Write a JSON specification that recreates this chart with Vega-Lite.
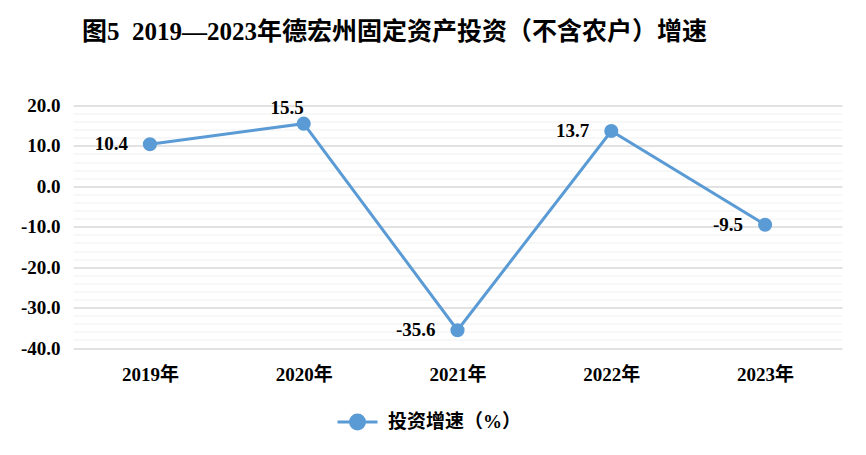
{
  "$schema": "https://vega.github.io/schema/vega-lite/v6.json",
  "width": 769,
  "height": 242.5,
  "autosize": {"type": "none"},
  "padding": {"left": 73, "top": 105.5, "right": 24, "bottom": 107},
  "background": "#ffffff",
  "config": {"view": {"stroke": null}, "font": "Liberation Serif, Noto Sans CJK SC"},
  "title": {
    "text": "图5\u00a0\u00a02019—2023年德宏州固定资产投资（不含农户）增速",
    "anchor": "start",
    "frame": "group",
    "dx": 9,
    "offset": 52,
    "font": "Liberation Serif, Noto Sans CJK SC",
    "fontSize": 25,
    "fontWeight": "bold",
    "color": "#000000"
  },
  "data": {
    "values": [
      {"year": "2019年", "value": 10.4, "series": "投资增速（%）"},
      {"year": "2020年", "value": 15.5, "series": "投资增速（%）"},
      {"year": "2021年", "value": -35.6, "series": "投资增速（%）"},
      {"year": "2022年", "value": 13.7, "series": "投资增速（%）"},
      {"year": "2023年", "value": -9.5, "series": "投资增速（%）"}
    ]
  },
  "encoding": {
    "x": {
      "field": "year",
      "type": "ordinal",
      "sort": null,
      "scale": {"padding": 0.5},
      "axis": {
        "title": null,
        "labelAngle": 0,
        "ticks": false,
        "domain": false,
        "labelPadding": 17,
        "labelFont": "Liberation Serif, Noto Sans CJK SC",
        "labelFontSize": 19,
        "labelFontWeight": "bold",
        "labelColor": "#000000"
      }
    },
    "y": {
      "field": "value",
      "type": "quantitative",
      "scale": {"domain": [-40, 20], "nice": false},
      "axis": {
        "title": null,
        "values": [-40, -38, -36, -34, -32, -30, -28, -26, -24, -22, -20, -18, -16, -14, -12, -10, -8, -6, -4, -2, 0, 2, 4, 6, 8, 10, 12, 14, 16, 18, 20],
        "labelExpr": "datum.value % 10 === 0 ? (datum.value < 0 ? '-' : '') + format(abs(datum.value), '.1f') : ''",
        "labelOverlap": false,
        "ticks": false,
        "domain": false,
        "labelPadding": 13,
        "labelFont": "Liberation Serif",
        "labelFontSize": 19,
        "labelFontWeight": "bold",
        "labelColor": "#000000",
        "gridColor": {"condition": {"test": "datum.value % 10 === 0", "value": "#D9D9D9"}, "value": "#F0F0F0"},
        "gridWidth": {"condition": {"test": "datum.value % 10 === 0", "value": 1.5}, "value": 1}
      }
    }
  },
  "layer": [
    {
      "mark": {"type": "line", "color": "#5B9BD5", "strokeWidth": 3}
    },
    {
      "mark": {"type": "point", "filled": true, "size": 200, "opacity": 1},
      "encoding": {
        "color": {
          "field": "series",
          "type": "nominal",
          "scale": {"range": ["#5B9BD5"]},
          "legend": {
            "title": null,
            "orient": "none",
            "legendX": 263,
            "legendY": 295,
            "padding": 0,
            "symbolType": "M-1,0H1M0.35,0A0.35,0.35 0 1 1 -0.35,0A0.35,0.35 0 1 1 0.35,0Z",
            "symbolSize": 1600,
            "symbolFillColor": "#5B9BD5",
            "symbolStrokeColor": "#5B9BD5",
            "symbolStrokeWidth": 3,
            "symbolOpacity": 1,
            "labelFont": "Liberation Serif, Noto Sans CJK SC",
            "labelFontSize": 19,
            "labelFontWeight": "bold",
            "labelColor": "#000000",
            "labelOffset": 9,
            "encode": {"symbols": {"update": {"stroke": {"value": "#5B9BD5"}, "strokeWidth": {"value": 3}, "fill": {"value": "#5B9BD5"}, "opacity": {"value": 1}}}}
          }
        }
      }
    },
    {
      "transform": [{"filter": "datum.year !== '2020年'"}],
      "mark": {"type": "text", "align": "right", "baseline": "middle", "dx": -22, "dy": 0, "font": "Liberation Serif", "fontSize": 19, "fontWeight": "bold", "color": "#000000"},
      "encoding": {"text": {"field": "value", "type": "nominal"}}
    },
    {
      "transform": [{"filter": "datum.year === '2020年'"}],
      "mark": {"type": "text", "align": "right", "baseline": "middle", "dx": 0, "dy": -16, "font": "Liberation Serif", "fontSize": 19, "fontWeight": "bold", "color": "#000000"},
      "encoding": {"text": {"field": "value", "type": "nominal"}}
    }
  ]
}
